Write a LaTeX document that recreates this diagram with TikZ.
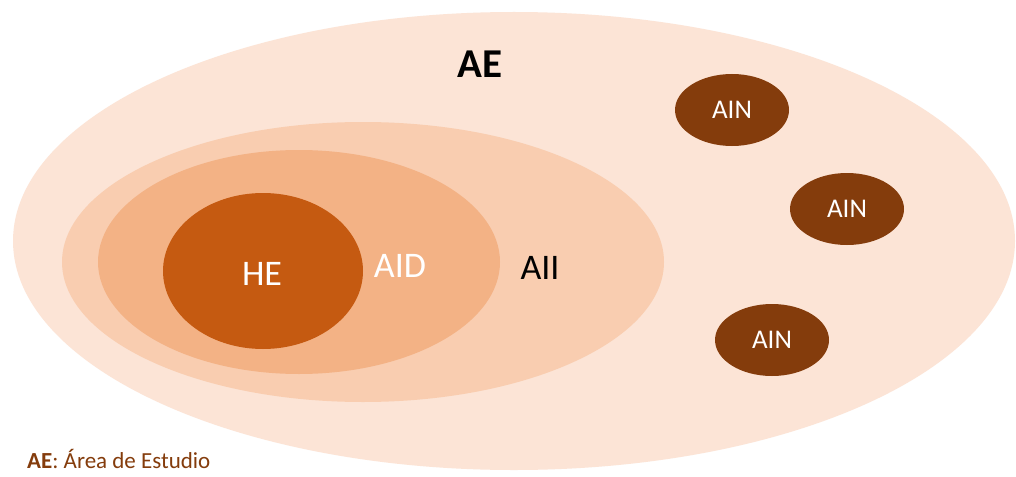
\documentclass[tikz,border=0pt]{standalone}
\usepackage{fontspec}
\setmainfont{Carlito}
\usetikzlibrary{shapes.geometric}
\definecolor{aecol}{HTML}{FCE4D6}
\definecolor{aiicol}{HTML}{F9CDB0}
\definecolor{aidcol}{HTML}{F3B285}
\definecolor{hecol}{HTML}{C55A11}
\definecolor{aincol}{HTML}{843C0C}
\definecolor{legcol}{HTML}{843C0C}
\tikzset{
  ain/.style={draw=none, fill=aincol, ellipse, minimum width=114pt, minimum height=72pt, inner sep=0pt, text=white, font=\fontsize{27}{30}\selectfont},
  lbl/.style={inner sep=0pt, font=\fontsize{36}{40}\selectfont}
}
\begin{document}
\begin{tikzpicture}[x=1pt,y=-1pt]
\useasboundingbox (0,0) rectangle (1016,476);
\fill[white] (0,0) rectangle (1016,476);
\fill[aecol] (514,241) ellipse [x radius=501, y radius=229];
\fill[aiicol] (363,262) ellipse [x radius=301, y radius=140];
\fill[aidcol] (299,262) ellipse [x radius=201, y radius=112];
\fill[hecol] (263,271) ellipse [x radius=100, y radius=78];
\node[lbl, font=\bfseries\fontsize{41}{45}\selectfont] (ae) at (480,64) {AE};
\node[lbl, text=white] (he) at (262,274) {HE};
\node[lbl, text=white] (aid) at (400,266) {AID};
\node[lbl, text=black] (aii) at (540,268) {AII};
\node[ain] (ain1) at (732,110) {AIN};
\node[ain] (ain2) at (847,209) {AIN};
\node[ain] (ain3) at (772,340) {AIN};
\node[anchor=base west, inner sep=0pt, text=legcol, font=\fontsize{23}{27}\selectfont] (leg) at (27,468) {\textbf{AE}: Área de Estudio};
\end{tikzpicture}
\end{document}
